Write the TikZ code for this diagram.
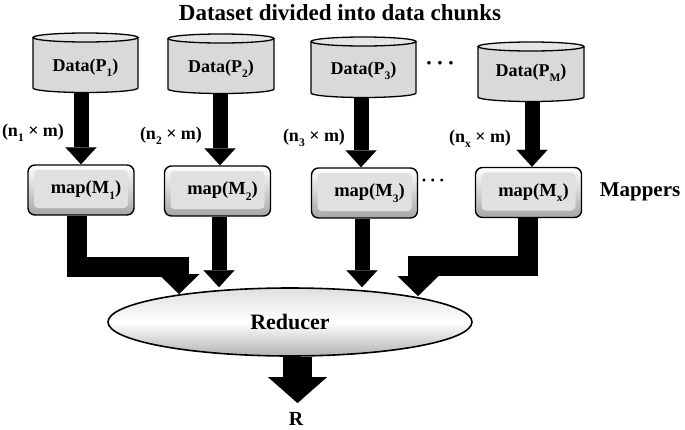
\documentclass[tikz,border=0pt]{standalone}
\usepackage{fontspec}
\setmainfont{Liberation Serif}
\usetikzlibrary{arrows.meta,shapes.geometric,calc}

\newcommand{\sbs}[1]{\raisebox{-0.65ex}{\fontsize{11.5}{11.5}\selectfont #1}}
\newcommand{\drawcyl}[4]{%
  \pgfmathsetmacro\cylcx{(#1+#2)/2}%
  \pgfmathsetmacro\cylrx{(#2-#1)/2}%
  \fill[cylfill] (#1,#3) rectangle (#2,#4);
  \fill[cylfill] (\cylcx,#4) ellipse[x radius=\cylrx pt, y radius=4.5pt];
  \draw[cylline] (#1,#3) -- (#1,#4) arc[start angle=180,end angle=360,x radius=\cylrx pt,y radius=4.5pt] -- (#2,#3);
  \draw[cylline, fill=gray!20] (\cylcx,#3) ellipse[x radius=\cylrx pt, y radius=4.5pt];
}

\begin{document}
\begin{tikzpicture}[x=1pt,y=-1pt,
  cylfill/.style={fill=gray!30},
  cylline/.style={line width=1.3pt},
  txt/.style={font=\bfseries\fontsize{18}{18}\selectfont, inner sep=0pt},
  dotstyle/.style={font=\bfseries\fontsize{22}{22}\selectfont, inner sep=0pt},
  mapbox/.style={draw, line width=1.4pt, rounded corners=7pt,
    minimum width=106pt, minimum height=50pt, inner sep=0pt,
    top color=white, bottom color=gray!70,
    path picture={\fill[gray!24, rounded corners=4pt]
      ([shift={(6pt,-5pt)}]path picture bounding box.north west) rectangle
      ([shift={(-6pt,7pt)}]path picture bounding box.south east);},
    font=\bfseries\fontsize{18.5}{18.5}\selectfont},
  thinarrow/.style={line width=15pt, -{Triangle[width=31pt,length=17pt,line width=0.1pt]}},
  bigarrow/.style={line width=20pt, line join=miter, -{Triangle[width=41pt,length=20pt,line width=0.1pt]}},
  outarrow/.style={line width=29pt, -{Triangle[width=59pt,length=26pt,line width=0.1pt]}},
]
\useasboundingbox (0,0) rectangle (685,429);

% title
\node[font=\bfseries\fontsize{23}{23}\selectfont, inner sep=0pt] (title) at (340,13) {Dataset divided into data chunks};

% cylinders
\drawcyl{33}{138}{37.5}{88}
\drawcyl{168}{274}{38.5}{89}
\drawcyl{311}{416}{41.5}{93}
\drawcyl{478}{584}{46.5}{97}
\node[txt] (d1) at (85.5,68) {Data(P\sbs{1})};
\node[txt] (d2) at (221,69) {Data(P\sbs{2})};
\node[txt] (d3) at (363.5,71) {Data(P\sbs{3})};
\node[txt] (d4) at (531,73) {Data(P\sbs{M})};
\node[dotstyle] (dots1) at (440,66) {·\,·\,·};

\coordinate (c1) at (81,92);
\coordinate (c2) at (220,93);
\coordinate (c3) at (361,97);
\coordinate (c4) at (532,101);

% map boxes
\node[mapbox] (m1) at (81,190) {\hspace*{10pt}\raisebox{-4pt}{map(M\sbs{1})}};
\node[mapbox] (m2) at (217.5,191) {\hspace*{10pt}\raisebox{-4pt}{map(M\sbs{2})}};
\node[mapbox] (m3) at (364.5,193) {\hspace*{10pt}\raisebox{-4pt}{map(M\sbs{3})}};
\node[mapbox] (m4) at (528.5,192.5) {\hspace*{10pt}\raisebox{-4pt}{map(M\sbs{x})}};
\node[dotstyle, font=\bfseries\fontsize{18}{18}\selectfont] (dots2) at (433,183) {·\,·\,·};
\node[font=\bfseries\fontsize{21}{21}\selectfont, inner sep=0pt] (mappers) at (640,192) {Mappers};

% labels
\node[txt] (l1) at (33,133) {(n\sbs{1} × m)};
\node[txt] (l2) at (171,136) {(n\sbs{2} × m)};
\node[txt] (l3) at (314,138) {(n\sbs{3} × m)};
\node[txt] (l4) at (480,139) {(n\sbs{x} × m)};

% cylinder to mapper arrows
\draw[thinarrow] (c1) -- (c1 |- m1.north);
\draw[thinarrow] (c2) -- (c2 |- m2.north);
\draw[thinarrow] (c3) -- (c3 |- m3.north);
\draw[thinarrow] (c4) -- (c4 |- m4.north);

% reducer
\node[ellipse, draw, line width=1.6pt, minimum width=364pt, minimum height=68pt,
  inner sep=0pt, top color=gray!25, bottom color=gray!60, middle color=white,
  font=\bfseries\fontsize{22}{22}\selectfont] (red) at (290,322) {\raisebox{-2pt}{Reducer}};

% mapper to reducer arrows
\coordinate (s1) at (77,200);
\coordinate (k1) at (179,267);
\coordinate (t1) at (179,294);
\coordinate (s2) at (219,200);
\coordinate (s3) at (362,200);
\coordinate (s4) at (528,200);
\coordinate (k4) at (418,266);
\coordinate (t4) at (418,296);
\draw[bigarrow] (s1 |- m1.south) |- (k1) -- (t1);
\draw[thinarrow] (s2 |- m2.south) -- (s2 |- red.north);
\draw[thinarrow] (s3 |- m3.south) -- (s3 |- red.north);
\draw[bigarrow] (s4 |- m4.south) |- (k4) -- (t4);

% output
\coordinate (rt) at (297.5,403);
\draw[outarrow] (rt |- red.south) -- (rt);
\node[font=\bfseries\fontsize{20}{20}\selectfont, inner sep=0pt] (R) at (296,419) {R};
\end{tikzpicture}
\end{document}
